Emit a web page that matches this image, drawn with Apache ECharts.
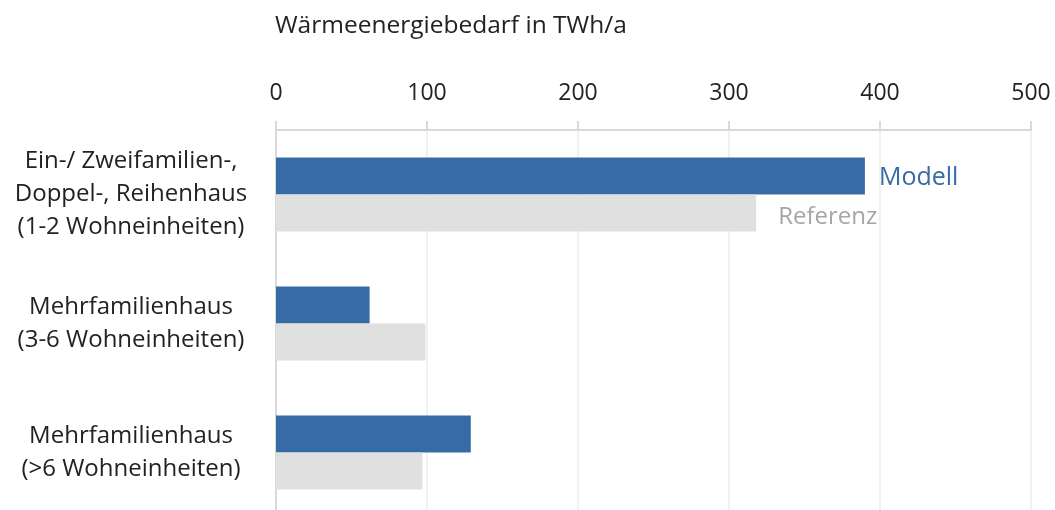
<!DOCTYPE html>
<html>
<head>
<meta charset="utf-8">
<script src="https://cdn.jsdelivr.net/npm/echarts@6/dist/echarts.min.js"></script>
<style>
html, body { margin: 0; padding: 0; background: #fff; }
#chart { width: 1055px; height: 510px; }
</style>
</head>
<body>
<div id="chart"></div>
<script>
// Kategorien und Werte (TWh/a)
var kategorien = [
	'Ein-/ Zweifamilien-,\nDoppel-, Reihenhaus\n(1-2 Wohneinheiten)',
	'Mehrfamilienhaus\n(3-6 Wohneinheiten)',
	'Mehrfamilienhaus\n(>6 Wohneinheiten)'
];
var modell = [390, 62, 129];
var referenz = [318, 99, 97];
var xTicks = [0, 500, 100]; // min, max, interval

var schrift = '"Open Sans", "Noto Sans", sans-serif';
var blau = '#366ba6';
var grau = '#e0e0e0';

// Serienname nur am ersten Balken als Beschriftung
function mitLabel(werte, farbe, abstand, groesse, dy) {
	return werte.map(function(v, i) {
		if (i != 0) return v;
		return {
			value : v,
			label : {
				show : true,
				position : 'right',
				distance : abstand,
				offset : [0, dy],
				color : farbe,
				fontSize : groesse,
				fontFamily : schrift,
				formatter : '{a}'
			}
		};
	});
}

var myChart = echarts.init(document.getElementById('chart'));
var options = {
	animation : false,
	title : {
		text : 'Wärmeenergiebedarf in TWh/a',
		left : 270,
		top : 9,
		textStyle : {
			fontSize : 24.5,
			fontWeight : 'normal',
			color : '#222',
			fontFamily : schrift
		}
	},
	grid : {
		left : 276,
		right : 24,
		top : 130,
		height : 387,
		containLabel : false,
		outerBoundsMode : 'none'
	},
	xAxis : {
		type : 'value',
		position : 'top',
		min : xTicks[0],
		max : xTicks[1],
		interval : xTicks[2],
		axisLine : { show : true, lineStyle : { color : '#d9d9d9', width : 2 } },
		axisTick : { show : true, length : 9, lineStyle : { color : '#d9d9d9', width : 2 } },
		axisLabel : {
			fontSize : 23,
			color : '#222',
			fontFamily : schrift,
			margin : 25
		},
		splitLine : { show : true, lineStyle : { color : '#ececec', width : 1.5 } }
	},
	yAxis : {
		type : 'category',
		inverse : true,
		data : kategorien,
		axisLine : { show : true, lineStyle : { color : '#d9d9d9', width : 2 } },
		axisTick : { show : false },
		axisLabel : {
			fontSize : 24,
			lineHeight : 33,
			color : '#222',
			fontFamily : schrift,
			margin : 145,
			align : 'center'
		}
	},
	series : [ {
		name : 'Modell',
		type : 'bar',
		data : mitLabel(modell, blau, 14, 25, 2),
		barWidth : 37,
		barGap : '0%',
		itemStyle : { color : blau }
	}, {
		name : 'Referenz',
		type : 'bar',
		data : mitLabel(referenz, '#a6a6a6', 22, 24, 4),
		barWidth : 37,
		barGap : '0%',
		itemStyle : { color : grau }
	} ]
};
myChart.setOption(options);
</script>
</body>
</html>
